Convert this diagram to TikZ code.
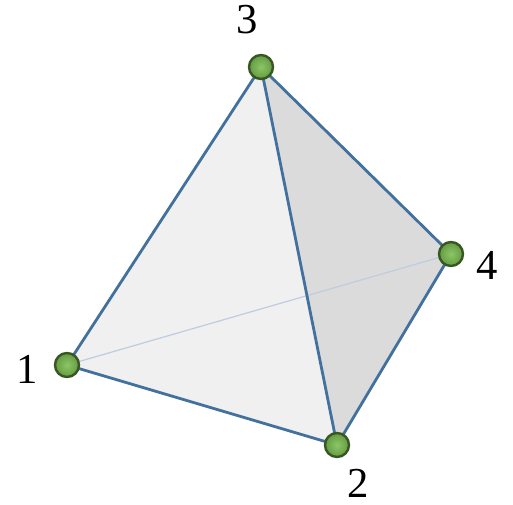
\documentclass[tikz,border=0pt]{standalone}
\usepackage{fontspec}
\setmainfont{Liberation Serif}
\usetikzlibrary{positioning, calc, shadings}
\definecolor{edgeblue}{RGB}{65,113,156}
\definecolor{hidblue}{RGB}{190,205,222}
\definecolor{facelight}{RGB}{240,240,241}
\definecolor{facedark}{RGB}{219,219,220}
\definecolor{ballrim}{RGB}{56,87,35}
\definecolor{ballin}{RGB}{140,198,100}
\definecolor{ballout}{RGB}{100,155,68}

\begin{document}
\begin{tikzpicture}[
    x=0.75pt, y=-0.75pt,
    vertexball/.style={circle, draw=ballrim, line width=1.8pt, inner color=ballin, outer color=ballout, minimum size=18pt, inner sep=0pt},
    numlabel/.style={font=\fontsize{32}{32}\selectfont, inner sep=0pt},
    edgeline/.style={draw=edgeblue, line width=2.1pt},
    hiddenline/.style={draw=hidblue, line width=0.9pt}
]
    \useasboundingbox (0,0) rectangle (513,504);
    % corner points
    \coordinate (p1) at (67,365);
    \coordinate (p2) at (337,445);
    \coordinate (p3) at (261,67);
    \coordinate (p4) at (451,254);

    % faces
    \fill[facelight] (p1) -- (p2) -- (p3) -- cycle;
    \fill[facedark] (p2) -- (p4) -- (p3) -- cycle;

    % edges
    \draw[hiddenline] (p1) -- (p4);
    \draw[edgeline] (p1) -- (p3);
    \draw[edgeline] (p1) -- (p2);
    \draw[edgeline] (p3) -- (p2);
    \draw[edgeline] (p3) -- (p4);
    \draw[edgeline] (p4) -- (p2);

    % vertices
    \node[vertexball] (v1) at (p1) {};
    \node[vertexball] (v2) at (p2) {};
    \node[vertexball] (v3) at (p3) {};
    \node[vertexball] (v4) at (p4) {};

    % numbers
    \node[numlabel] (n1) at (27,369) {1};
    \node[numlabel] (n2) at (358,483) {2};
    \node[numlabel] (n3) at (247,20) {3};
    \node[numlabel] (n4) at (487,265) {4};
\end{tikzpicture}
\end{document}
